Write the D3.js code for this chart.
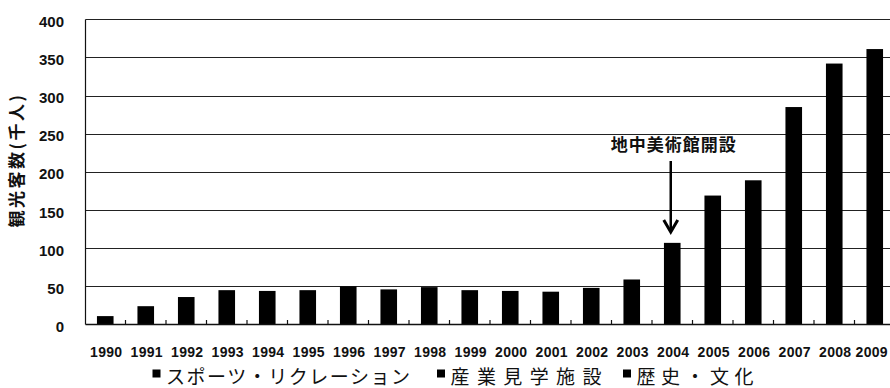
<!DOCTYPE html>
<html lang="ja">
<head>
<meta charset="utf-8">
<script src="https://cdn.jsdelivr.net/npm/d3@7/dist/d3.min.js"></script>
<style>
  html, body { margin: 0; padding: 0; background: #fff; }
  svg { display: block; }
</style>
</head>
<body>
<svg id="chart" width="890" height="388"></svg>
<script>
// 観光客数の推移（千人）
const years = ["1990","1991","1992","1993","1994","1995","1996","1997","1998","1999",
               "2000","2001","2002","2003","2004","2005","2006","2007","2008","2009"];
const visitors = [11, 24, 36, 45, 44, 45, 50, 46, 49, 45,
                  44, 43, 48, 59, 107, 169, 189, 285, 342, 361];
const yTicks = [0, 50, 100, 150, 200, 250, 300, 350, 400];
const legendLabels = ["スポーツ・リクレーション", "産業見学施設", "歴史・文化"];
const yAxisTitle = "観光客数(千人)";
const note = { year: "2004", text: "地中美術館開設" };

const svg = d3.select("#chart");
const plotLeft = 85.5, plotRight = 895, plotTop = 19.3, plotBottom = 324.5;
const ink = "#111";

const x = d3.scaleBand().domain(years).range([85, plotRight])
  .paddingInner(0.59).paddingOuter(0.295);
const y = d3.scaleLinear().domain([0, 400]).range([plotBottom, plotTop]);

// horizontal grid lines
svg.append("g").selectAll("line").data(yTicks.filter(d => d > 0)).join("line")
  .attr("x1", plotLeft).attr("x2", 890)
  .attr("y1", d => Math.round(y(d)) + 0.5).attr("y2", d => Math.round(y(d)) + 0.5)
  .attr("stroke", "#222").attr("stroke-width", 1.1);

// bars
svg.append("g").selectAll("rect").data(visitors).join("rect")
  .attr("x", (d, i) => x(years[i]))
  .attr("width", x.bandwidth())
  .attr("y", d => y(d))
  .attr("height", d => y(0) - y(d))
  .attr("fill", "#000");

// axes frame
svg.append("line").attr("x1", plotLeft).attr("x2", plotLeft).attr("y1", Math.round(plotTop) + 0.5).attr("y2", plotBottom)
  .attr("stroke", ink).attr("stroke-width", 1.2);
svg.append("line").attr("x1", plotLeft).attr("x2", 890).attr("y1", plotBottom).attr("y2", plotBottom)
  .attr("stroke", ink).attr("stroke-width", 1.4);

// category boundary ticks
const step = x.step();
svg.append("g").selectAll("line").data(years.slice(1)).join("line")
  .attr("x1", d => x(d) - (step - x.bandwidth()) / 2)
  .attr("x2", d => x(d) - (step - x.bandwidth()) / 2)
  .attr("y1", plotBottom).attr("y2", plotBottom - 4.5)
  .attr("stroke", ink).attr("stroke-width", 1.2);

// y tick labels
svg.append("g").selectAll("text").data(yTicks).join("text")
  .attr("x", 64).attr("y", d => y(d) + 2)
  .attr("text-anchor", "end").attr("dominant-baseline", "central")
  .attr("font-family", "'Liberation Sans', Arial, sans-serif")
  .attr("font-weight", "bold").attr("font-size", 15).attr("fill", ink)
  .text(d => d);

// x tick labels (the last one is nudged so it stays inside the page)
svg.append("g").selectAll("text").data(years).join("text")
  .attr("x", (d, i) => x(d) + x.bandwidth() / 2 + 1 - (i === years.length - 1 ? 4 : 0))
  .attr("y", 356.5)
  .attr("text-anchor", "middle")
  .attr("font-family", "'Liberation Sans', Arial, sans-serif")
  .attr("font-weight", "bold").attr("font-size", 14).attr("letter-spacing", 0.3)
  .attr("fill", ink)
  .text(d => d);

// y axis title
svg.append("text")
  .attr("transform", "translate(23,160) rotate(-90)")
  .attr("text-anchor", "middle")
  .attr("font-family", "'Noto Sans CJK JP', sans-serif")
  .attr("font-weight", "bold").attr("font-size", 17).attr("letter-spacing", 2.5)
  .attr("fill", ink)
  .text(yAxisTitle);

// annotation with arrow
const ax = x(note.year) + x.bandwidth() / 2 - 1.5;
svg.append("text")
  .attr("x", ax + 3).attr("y", 151)
  .attr("text-anchor", "middle")
  .attr("font-family", "'Noto Sans CJK JP', sans-serif")
  .attr("font-weight", "bold").attr("font-size", 17).attr("letter-spacing", 1)
  .attr("fill", ink)
  .text(note.text);
svg.append("line").attr("x1", ax).attr("x2", ax).attr("y1", 161).attr("y2", 231)
  .attr("stroke", "#000").attr("stroke-width", 2.5);
svg.append("path")
  .attr("d", `M${ax - 7},${220} L${ax},${232} L${ax + 7},${220}`)
  .attr("fill", "none").attr("stroke", "#000").attr("stroke-width", 3);

// legend
const legendX = [152.5, 437, 623];
const legendW = [244, 151, 117];
const lg = svg.append("g").selectAll("g").data(legendLabels).join("g")
  .attr("transform", (d, i) => `translate(${legendX[i]},0)`);
lg.append("rect").attr("x", 0).attr("y", 369.5).attr("width", 8).attr("height", 8).attr("fill", "#000");
lg.append("text")
  .attr("x", 13.5).attr("y", 384)
  .attr("font-family", "'Noto Sans CJK JP', sans-serif")
  .attr("font-size", 19).attr("fill", ink)
  .attr("textLength", (d, i) => legendW[i]).attr("lengthAdjust", "spacing")
  .text(d => d);
</script>
</body>
</html>
